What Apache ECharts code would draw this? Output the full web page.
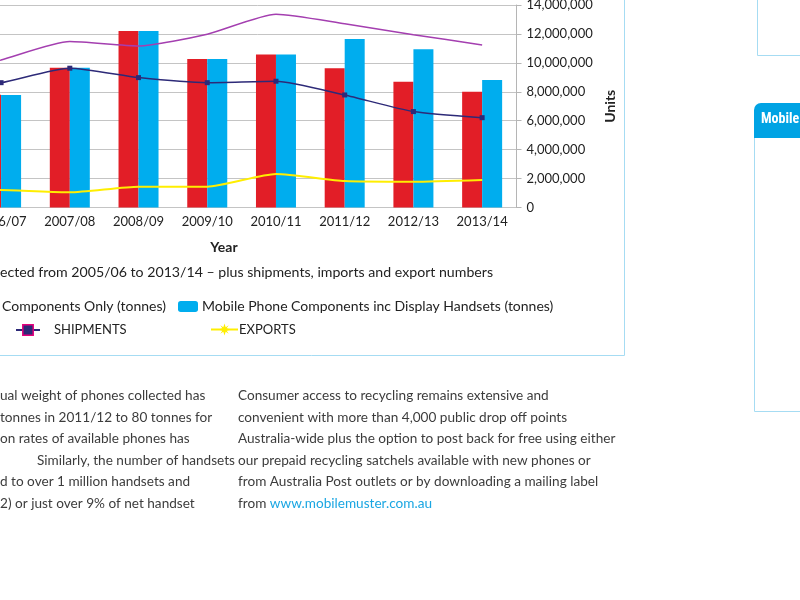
<!DOCTYPE html>
<html>
<head>
<meta charset="utf-8">
<script src="https://cdn.jsdelivr.net/npm/echarts@6/dist/echarts.min.js"></script>
<style>
html,body{margin:0;padding:0;background:#fff;}
#c{width:800px;height:600px;}
</style>
</head>
<body>
<div id="c"></div>
<script>
var categories = ['2005/06','2006/07','2007/08','2008/09','2009/10','2010/11','2011/12','2012/13','2013/14'];
var componentsOnly = [6500000, 7800000, 9670000, 12200000, 10270000, 10570000, 9630000, 8700000, 8010000];
var componentsIncHandsets = [6500000, 7780000, 9670000, 12200000, 10270000, 10570000, 11650000, 10940000, 8820000];
var imports = [9000000, 10200000, 11470000, 11170000, 11980000, 13360000, 12700000, 11950000, 11240000];
var shipments = [8000000, 8630000, 9630000, 8980000, 8630000, 8730000, 7780000, 6630000, 6210000];
var exportsData = [1000000, 1210000, 1050000, 1440000, 1440000, 2320000, 1830000, 1780000, 1900000];
var yTicks = {min: 0, max: 14000000, interval: 2000000};

var leftLines = [
  'ual weight of phones collected has',
  'tonnes in 2011/12 to 80 tonnes for',
  'on rates of available phones has',
  'Similarly, the number of handsets',
  'd to over 1 million handsets and',
  '2) or just over 9% of net handset'
];
var leftXs = [0, 0, 0, 37, 0, 0];
var rightLines = [
  'Consumer access to recycling remains extensive and',
  'convenient with more than 4,000 public drop off points',
  'Australia-wide plus the option to post back for free using either',
  'our prepaid recycling satchels available with new phones or',
  'from Australia Post outlets or by downloading a mailing label'
];

var FONT = 'Lato';
var PFS = 13.6;
var txtColor = '#3c3c3c';
var star = 'path://M50,0 L60,32 L85,15 L68,40 L100,50 L68,60 L85,85 L60,68 L50,100 L40,68 L15,85 L32,60 L0,50 L32,40 L15,15 L40,32 Z';

var chart = echarts.init(document.getElementById('c'));
var graphics = [];
graphics.push({type:'polyline', shape:{points:[[624.5,0],[624.5,355.5],[-5,355.5]]}, style:{stroke:'#a6dcf3', lineWidth:1, fill:null}});
graphics.push({type:'polyline', shape:{points:[[757.5,0],[757.5,55.5],[805,55.5]]}, style:{stroke:'#a6dcf3', lineWidth:1, fill:null}});
graphics.push({type:'rect', shape:{x:754, y:103, width:60, height:35, r:[7,0,0,0]}, style:{fill:'#00a3e4'}});
graphics.push({type:'polyline', shape:{points:[[754.5,138],[754.5,411.5],[805,411.5]]}, style:{stroke:'#a6dcf3', lineWidth:1, fill:null}});
graphics.push({type:'text', left:761, top:112, style:{text:'Mobile', fill:'#fff', font:'bold 14px "Roboto Condensed", "Liberation Sans Narrow", Roboto, sans-serif'}});
graphics.push({type:'text', x:224, y:247, style:{text:'Year', fill:'#222', font:'bold 14px ' + FONT, align:'center', verticalAlign:'middle'}});
graphics.push({type:'text', x:493, y:272, style:{text:'ected from 2005/06 to 2013/14 \u2013 plus shipments, imports and export numbers', fill:'#222', font:'14.15px ' + FONT, align:'right', verticalAlign:'middle'}});
var lineYs = [396, 417.5, 439, 460.5, 482, 503.5];
leftLines.forEach(function(t, i){
  graphics.push({type:'text', x:leftXs[i], y:lineYs[i], style:{text:t, fill:txtColor, font:PFS + 'px ' + FONT, align:'left', verticalAlign:'middle'}});
});
rightLines.forEach(function(t, i){
  graphics.push({type:'text', x:238, y:lineYs[i], style:{text:t, fill:txtColor, font:PFS + 'px ' + FONT, align:'left', verticalAlign:'middle'}});
});
graphics.push({type:'text', x:238, y:lineYs[5], style:{text:'{a|from }{b|www.mobilemuster.com.au}', font:PFS + 'px ' + FONT, verticalAlign:'middle',
  rich:{a:{fill:txtColor, fontFamily:FONT, fontSize:PFS}, b:{fill:'#1aa6e2', fontFamily:FONT, fontSize:PFS}}}});

var lt = function(extra){ return Object.assign({color:'#222', fontFamily:FONT, fontSize:14}, extra || {}); };

chart.setOption({
  animation:false,
  textStyle:{fontFamily:FONT},
  grid:{left:-102, right:283.5, top:5, bottom:392.5, containLabel:false, outerBoundsMode:'none'},
  legend:[
    {data:['Mobile Phone Components Only (tonnes)'], right:634, top:299.5, padding:0, itemWidth:20, itemHeight:11, textStyle:lt(), selectedMode:false},
    {data:['Mobile Phone Components inc Display Handsets (tonnes)'], left:178, top:299.5, padding:0, itemWidth:20, itemHeight:11, textStyle:lt({padding:[0,0,0,-1]}), selectedMode:false},
    {data:[{name:'SHIPMENTS', itemStyle:{color:'#2d2a78', borderColor:'#e4007c', borderWidth:1.5}}],
     left:15, top:323.5, padding:0, itemWidth:24, itemHeight:13, textStyle:lt({fontSize:13, padding:[0,0,0,9]}), selectedMode:false},
    {data:['EXPORTS'], left:210, top:323, padding:0, itemWidth:27, itemHeight:15, textStyle:lt({fontSize:13, padding:[0,0,0,-4]}), selectedMode:false}
  ],
  xAxis:{type:'category', data:categories,
    axisLine:{show:false}, axisTick:{show:false},
    axisLabel:{color:'#222', fontSize:13, margin:8, interval:0}},
  yAxis:{type:'value', position:'right', min:yTicks.min, max:yTicks.max, interval:yTicks.interval,
    name:'Units', nameLocation:'middle', nameGap:66, nameRotate:90,
    nameTextStyle:{color:'#222', fontWeight:'bold', fontSize:14, fontFamily:FONT},
    axisLine:{show:true, lineStyle:{color:'#b5b5b5'}},
    axisTick:{show:true, length:5, lineStyle:{color:'#b5b5b5'}},
    splitLine:{lineStyle:{color:'#c4c4c4'}},
    axisLabel:{color:'#222', fontSize:13, margin:10, formatter:function(v){return v.toLocaleString('en-US');}}},
  series:[
    {name:'Mobile Phone Components Only (tonnes)', type:'bar', data:componentsOnly, barWidth:20, barGap:'0%', itemStyle:{color:'#e21e27'}},
    {name:'Mobile Phone Components inc Display Handsets (tonnes)', type:'bar', data:componentsIncHandsets, barWidth:20, barGap:'0%', itemStyle:{color:'#00adee'}},
    {name:'IMPORTS', type:'line', data:imports, smooth:0.2, showSymbol:false, symbol:'none', lineStyle:{color:'#a43fb0', width:1.5}, itemStyle:{color:'#a43fb0'}},
    {name:'SHIPMENTS', type:'line', data:shipments, smooth:0.2, symbol:'rect', symbolSize:5, lineStyle:{color:'#2d2a78', width:1.5}, itemStyle:{color:'#2d2a78'}},
    {name:'EXPORTS', type:'line', data:exportsData, smooth:0.2, symbol:star, showSymbol:false, lineStyle:{color:'#ffee00', width:2}, itemStyle:{color:'#ffee00'}}
  ],
  graphic:graphics
});
</script>
</body>
</html>
